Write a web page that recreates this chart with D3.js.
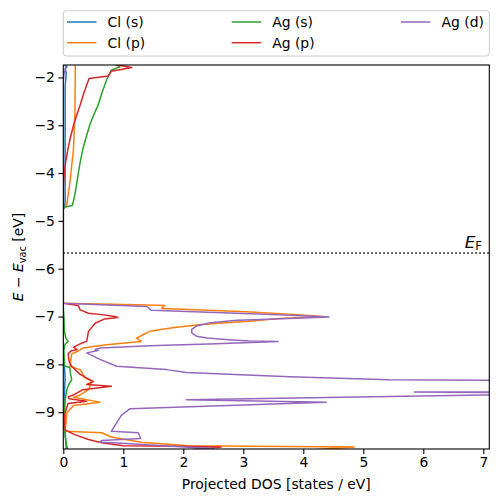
<!DOCTYPE html>
<html><head><meta charset="utf-8">
<script src="https://cdn.jsdelivr.net/npm/d3@7"></script>
<style>body{margin:0;background:#fff;} text{font-family:"DejaVu Sans",sans-serif;}</style>
</head><body>
<script>
// ---- data (energy in eV, DOS in states/eV) ----
const seriesNames = ["Cl (s)", "Cl (p)", "Ag (s)", "Ag (p)", "Ag (d)"];
const seriesColors = ["#1f77b4", "#ff7f0e", "#2ca02c", "#d62728", "#9467bd"];

const clsE = [-1.70, -1.78, -1.82, -1.90, -2.20, -3.00, -4.00, -4.60, -4.72, -4.76, -6.70, -7.90, -8.05, -8.30, -8.60, -8.90, -9.20, -9.40, -9.60, -9.80];
const clsD = [0.02, 0.06, 0.03, 0.05, 0.03, 0.03, 0.03, 0.03, 0.02, 0.0, 0.0, 0.0, 0.02, 0.03, 0.02, 0.02, 0.01, 0.03, 0.04, 0.05];

const clpE = [-1.70, -2.70, -3.50, -4.20, -4.68, -4.75, -6.72, -6.76, -6.77, -6.83, -6.86, -6.90, -6.96, -7.00, -7.04, -7.10, -7.13, -7.17, -7.23, -7.31, -7.38, -7.45, -7.52, -7.59, -7.66, -7.72, -7.78, -8.04, -8.11, -8.28, -8.35, -8.44, -8.53, -8.64, -8.69, -8.79, -8.86, -9.01, -9.40, -9.43, -9.52, -9.63, -9.70, -9.73, -9.80];
const clpD = [0.20, 0.195, 0.17, 0.11, 0.055, 0.0, 0.0, 1.40, 1.69, 1.64, 2.20, 3.05, 3.90, 4.32, 3.60, 3.10, 2.70, 2.27, 1.85, 1.44, 1.33, 1.22, 1.30, 0.72, 0.33, 0.25, 0.14, 0.11, 0.28, 0.36, 0.47, 0.45, 0.42, 0.28, 0.17, 0.61, 0.17, 0.06, 0.03, 0.64, 0.80, 1.30, 2.08, 4.85, 4.00];

const agsE = [-1.70, -1.78, -1.85, -1.95, -2.06, -2.30, -2.58, -2.80, -3.00, -3.25, -3.48, -3.75, -4.00, -4.25, -4.50, -4.68, -4.71, -4.76, -6.80, -7.00, -7.30, -7.45, -7.52, -7.58, -7.70, -8.03, -8.07, -8.20, -8.32, -8.45, -8.53, -8.74, -9.00, -9.50, -9.72, -9.80];
const agsD = [0.85, 0.94, 0.80, 0.76, 0.72, 0.65, 0.58, 0.50, 0.44, 0.38, 0.33, 0.285, 0.25, 0.22, 0.185, 0.15, 0.03, 0.0, 0.0, 0.01, 0.02, 0.04, 0.08, 0.03, 0.01, 0.02, 0.11, 0.12, 0.14, 0.08, 0.06, 0.03, 0.02, 0.03, 0.06, 0.08];

const agpE = [-1.70, -1.74, -1.79, -1.87, -1.97, -2.02, -2.30, -2.58, -2.80, -3.00, -3.25, -3.48, -3.80, -4.10, -4.30, -6.72, -6.77, -6.86, -6.93, -6.96, -7.00, -7.02, -7.05, -7.14, -7.31, -7.52, -7.56, -7.64, -7.69, -7.72, -7.78, -7.95, -8.04, -8.21, -8.32, -8.36, -8.42, -8.46, -8.53, -8.64, -8.68, -8.72, -8.77, -8.82, -9.01, -9.36, -9.47, -9.57, -9.64, -9.70, -9.71, -9.73, -9.80];
const agpD = [0.85, 0.89, 1.14, 0.80, 0.75, 0.43, 0.35, 0.28, 0.22, 0.17, 0.12, 0.08, 0.035, 0.01, 0.0, 0.0, 0.25, 0.28, 0.42, 0.64, 0.86, 0.91, 0.69, 0.53, 0.42, 0.39, 0.30, 0.17, 0.23, 0.13, 0.08, 0.10, 0.14, 0.28, 0.44, 0.50, 0.39, 0.80, 0.33, 0.17, 0.08, 0.10, 0.39, 0.08, 0.03, 0.01, 0.19, 0.42, 0.64, 1.00, 1.94, 2.63, 2.00];

const agdE = [-1.70, -1.80, -1.95, -2.10, -6.72, -6.79, -6.87, -6.92, -6.97, -7.01, -7.06, -7.08, -7.13, -7.20, -7.27, -7.34, -7.41, -7.45, -7.48, -7.51, -7.52, -7.57, -7.61, -7.66, -7.69, -7.71, -7.76, -7.90, -8.04, -8.11, -8.17, -8.26, -8.32, -8.33, -8.36, -8.50, -8.575, -8.58, -8.59, -8.61, -8.64, -8.74, -8.79, -8.93, -9.06, -9.40, -9.43, -9.55, -9.59, -9.63, -9.64, -9.73, -9.76, -9.80];
const agdD = [0.03, 0.04, 0.01, 0.0, 0.0, 1.39, 1.47, 2.66, 3.71, 4.43, 3.30, 2.90, 2.45, 2.22, 2.14, 2.14, 2.22, 2.40, 2.70, 3.10, 3.58, 2.55, 1.44, 0.61, 0.53, 0.58, 0.39, 0.62, 0.89, 1.72, 2.05, 3.77, 5.43, 7.10, 10.0, 10.0, 7.50, 5.85, 7.50, 10.0, 7.00, 2.05, 4.38, 1.11, 0.97, 0.80, 1.25, 1.29, 0.64, 0.61, 0.83, 2.02, 2.50, 2.00];

const xTicks = [0, 1, 2, 3, 4, 5, 6, 7];
const yTicks = [-2, -3, -4, -5, -6, -7, -8, -9];
const eFermi = -5.67;
const xLimits = [0, 7.1];
const yLimits = [-9.77, -1.74];

const seriesE = [clsE, clpE, agsE, agpE, agdE];
const seriesD = [clsD, clpD, agsD, agpD, agdD];

// ---- layout ----
const W = 498, H = 502;
const L = 63.3, R = 489.3, T = 65, B = 449;
const fs = 13.9;

const svg = d3.select("body").append("svg").attr("width", W).attr("height", H);
const x = d3.scaleLinear().domain(xLimits).range([L, R]);
const y = d3.scaleLinear().domain(yLimits).range([B, T]);

svg.append("defs").append("clipPath").attr("id", "plotclip")
  .append("rect").attr("x", L).attr("y", T).attr("width", R - L).attr("height", B - T);

const g = svg.append("g").attr("clip-path", "url(#plotclip)");
const line = d3.line().x(d => x(d[1])).y(d => y(d[0]));
seriesE.forEach((E, i) => {
  const pts = E.map((e, j) => [e, seriesD[i][j]]);
  g.append("path").attr("d", line(pts)).attr("fill", "none")
    .attr("stroke", seriesColors[i]).attr("stroke-width", 1.5)
    .attr("stroke-linejoin", "round").attr("stroke-linecap", "square");
});

// Fermi level
g.append("line").attr("x1", L).attr("x2", R).attr("y1", y(eFermi)).attr("y2", y(eFermi))
  .attr("stroke", "#000").attr("stroke-width", 1.5).attr("stroke-dasharray", "1.5,2.5");

const ef = svg.append("text").attr("x", 482).attr("y", 247.5).attr("text-anchor", "end")
  .attr("font-size", 16.7);
ef.append("tspan").attr("font-style", "italic").text("E");
ef.append("tspan").attr("font-size", 11.7).attr("dy", 2.5).text("F");

// axes
const xAxis = d3.axisBottom(x).tickValues(xTicks).tickSize(4.9).tickPadding(3.5).tickFormat(d3.format("d"));
const yAxis = d3.axisLeft(y).tickValues(yTicks).tickSize(4.9).tickPadding(3.5).tickFormat(d => "\u2212" + Math.abs(d));
const gx = svg.append("g").attr("transform", `translate(0,${B})`).call(xAxis);
const gy = svg.append("g").attr("transform", `translate(${L},0)`).call(yAxis);
[gx, gy].forEach(a => {
  a.select(".domain").remove();
  a.selectAll(".tick line").attr("stroke", "#000").attr("stroke-width", 1.1);
  a.selectAll(".tick text").attr("font-size", fs).attr("font-family", "DejaVu Sans").attr("fill", "#000");
});
svg.append("rect").attr("x", L).attr("y", T).attr("width", R - L).attr("height", B - T)
  .attr("fill", "none").attr("stroke", "#000").attr("stroke-width", 1.1);

// axis labels
svg.append("text").attr("x", (L + R) / 2).attr("y", 489).attr("text-anchor", "middle")
  .attr("font-size", fs).text("Projected DOS [states / eV]");
const yl = svg.append("text").attr("transform", `translate(23,${(T + B) / 2}) rotate(-90)`)
  .attr("text-anchor", "middle").attr("font-size", fs);
yl.append("tspan").attr("font-style", "italic").text("E");
yl.append("tspan").text(" \u2212 ");
yl.append("tspan").attr("font-style", "italic").text("E");
yl.append("tspan").attr("font-size", 9.7).attr("dy", 2.5).text("vac");
yl.append("tspan").attr("dy", -2.5).text(" [eV]");

// legend
const lg = svg.append("g");
lg.append("rect").attr("x", 63.3).attr("y", 10.7).attr("width", 426).attr("height", 45.3)
  .attr("rx", 2.8).attr("fill", "#fff").attr("fill-opacity", 0.8).attr("stroke", "#cccccc").attr("stroke-width", 1);
const colX = [67, 231.7, 401];
const rowY = [22, 42.7];
const colOf = [0, 0, 1, 1, 2], rowOf = [0, 1, 0, 1, 0];
seriesNames.forEach((n, i) => {
  const cx = colX[colOf[i]], cy = rowY[rowOf[i]];
  lg.append("line").attr("x1", cx).attr("x2", cx + 29.5).attr("y1", cy).attr("y2", cy)
    .attr("stroke", seriesColors[i]).attr("stroke-width", 1.5);
  lg.append("text").attr("x", cx + 40.5).attr("y", cy).attr("dy", "0.36em")
    .attr("font-size", fs).text(n);
});
</script>
</body></html>
